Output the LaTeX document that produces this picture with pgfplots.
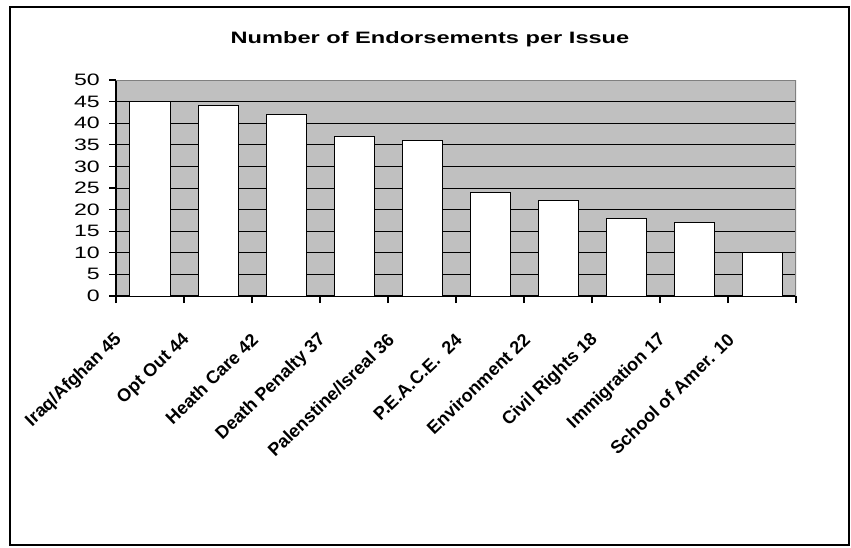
\documentclass[border=0pt]{standalone}
\usepackage{pgfplots}
\pgfplotsset{compat=1.18}
\usepackage{fontspec}
\setmainfont{Liberation Sans}
\definecolor{plotbg}{RGB}{192,192,192}
\definecolor{edgegray}{RGB}{128,128,128}

\begin{document}
\begin{tikzpicture}
\useasboundingbox (0,0) rectangle (851pt,-548pt);
\draw[line width=2pt] (10pt,-7pt) rectangle (849pt,-545pt);
\node[font=\fontsize{16.5}{18}\selectfont\bfseries, xscale=1.43, anchor=base]
  at (430pt,-43.5pt) {Number of Endorsements per Issue};
\begin{axis}[
  at={(116pt,-296pt)}, anchor=south west,
  scale only axis, width=680pt, height=216pt,
  xmin=0, xmax=10, ymin=0, ymax=50,
  axis x line*=bottom, axis y line*=left,
  axis line style={line width=1.2pt, -},
  axis background/.style={fill=plotbg},
  ybar, bar width=40pt,
  /pgf/number format/assume math mode=true,
  ytick={0,5,...,50},
  xtick={0,...,10},
  xticklabels={},
  extra x ticks={0.5,1.5,...,9.5},
  extra x tick labels={Iraq/Afghan 45, Opt Out 44, Heath Care 42, Death Penalty 37,
    Palenstine/Isreal 36, P.E.A.C.E.\ \ 24, Environment 22, Civil Rights 18,
    Immigration 17, School of Amer. 10},
  extra x tick style={tick style={draw=none}},
  tick align=outside,
  major tick length=7pt,
  tick style={black, line width=1.2pt},
  ymajorgrids,
  grid style={black, line width=0.9pt},
  yticklabel style={font=\fontsize{16.5}{18}\selectfont, xshift=-9pt, xscale=1.4,
    anchor=east, inner sep=0pt},
  xticklabel style={font=\fontsize{18}{19}\selectfont\bfseries, xshift=-31pt, yshift=-34pt,
    rotate=44, anchor=east, inner sep=0pt},
]
\addplot[fill=white, draw=black, line width=1pt] coordinates {
  (0.5,45) (1.5,44) (2.5,42) (3.5,37) (4.5,36)
  (5.5,24) (6.5,22) (7.5,18) (8.5,17) (9.5,10)};
\draw[edgegray, line width=1.3pt] (rel axis cs:0,1) -- (rel axis cs:1,1) -- (rel axis cs:1,0);
\end{axis}
\end{tikzpicture}
\end{document}
